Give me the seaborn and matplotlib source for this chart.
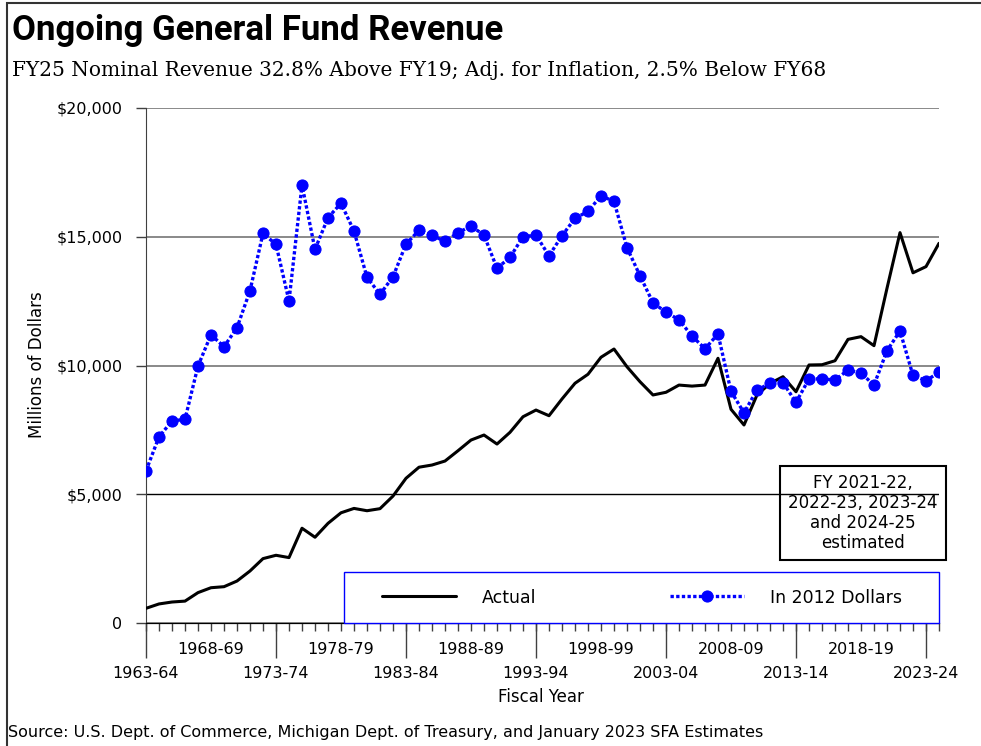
import pandas as pd
import numpy as np
import seaborn as sns
import matplotlib.pyplot as plt
from matplotlib.patches import Rectangle

# Data (millions of dollars), FY 1963-64 .. FY 2024-25
fiscal_years = [f"{y}-{str(y + 1)[-2:]}" for y in range(1963, 2025)]
actual = [570, 740, 815, 850, 1180, 1370, 1410, 1630, 2020, 2500,
          2630, 2540, 3680, 3330, 3870, 4280, 4450, 4360, 4440, 4930,
          5620, 6050, 6135, 6290, 6690, 7105, 7300, 6950, 7405, 8010,
          8270, 8050, 8700, 9310, 9660, 10320, 10640, 9950, 9370, 8855,
          8960, 9240, 9200, 9240, 10280, 8300, 7690, 8855, 9305, 9565,
          8980, 10020, 10030, 10185, 11015, 11120, 10770, 13000, 15160, 13600,
          13840, 14745]
real_2012 = [5910, 7230, 7845, 7910, 9980, 11195, 10730, 11465, 12905, 15130,
             14705, 12505, 17010, 14510, 15740, 16300, 15220, 13425, 12765, 13445,
             14715, 15250, 15055, 14820, 15155, 15415, 15065, 13775, 14200, 15000,
             15065, 14260, 15040, 15715, 15985, 16590, 16375, 14575, 13485, 12435,
             12070, 11775, 11145, 10650, 11225, 8995, 8165, 9050, 9305, 9335,
             8570, 9475, 9485, 9435, 9825, 9705, 9240, 10575, 11340, 9615,
             9410, 9735]
lower_labels = ["1963-64", "1973-74", "1983-84", "1993-94", "2003-04", "2013-14", "2023-24"]
upper_labels = ["1968-69", "1978-79", "1988-89", "1998-99", "2008-09", "2018-19"]

df = pd.DataFrame({"idx": np.arange(len(fiscal_years)), "year": fiscal_years,
                   "Actual": actual, "In 2012 Dollars": real_2012})

sns.set_style("white")
plt.rcParams['font.family'] = ['DejaVu Sans']
plt.rcParams.update({"text.color": "black", "axes.labelcolor": "black",
                     "xtick.color": "black", "ytick.color": "black"})

fig = plt.figure(figsize=(9.81, 7.46), dpi=100)
ax = fig.add_axes([146 / 981, 1 - 623 / 746, 793 / 981, 515 / 746])

sns.lineplot(data=df, x="idx", y="Actual", ax=ax, color="black", lw=2.2,
             label="Actual", zorder=3)
sns.lineplot(data=df, x="idx", y="In 2012 Dollars", ax=ax, color="#0000ff",
             lw=2.4, linestyle=(0, (1.0, 0.7)), marker="o", markersize=8,
             markeredgecolor="#0000ff", label="In 2012 Dollars", zorder=4)

ax.set_xlim(0, len(fiscal_years) - 1)
ax.set_ylim(0, 20000)
ax.set_xlabel("")
ax.set_ylabel("")

# y axis
ax.set_yticks([0, 5000, 10000, 15000, 20000],
              ["0", "$5,000", "$10,000", "$15,000", "$20,000"])
ax.tick_params(axis="y", left=True, length=7, width=1, pad=10, labelsize=11.5,
               color="#404040")
ax.yaxis.grid(True, color="#808080", lw=1.3)
for gl, v in zip(ax.get_ygridlines(), ax.get_yticks()):
    if v == 5000:
        gl.set_color("black")
        gl.set_linewidth(1)

# x axis: short ticks every year, staggered labels, long ticks every 10 years
ax.set_xticks(np.arange(5, len(fiscal_years), 10), upper_labels)
ax.set_xticks(np.arange(len(fiscal_years)), minor=True)
ax.tick_params(axis="x", which="both", bottom=True, length=6, width=1,
               color="#404040")
ax.tick_params(axis="x", which="major", pad=8, labelsize=11.5)
sec = ax.secondary_xaxis("bottom")
sec.set_xticks(np.arange(0, len(fiscal_years), 10), lower_labels)
sec.tick_params(axis="x", length=25, width=1, pad=6, labelsize=11.5, color="#404040")
sec.spines["bottom"].set_color("black")

for side in ["top", "right"]:
    ax.spines[side].set_visible(False)
ax.spines["left"].set_color("#404040")
ax.spines["bottom"].set_color("black")

# legend inside a blue box sitting on the x axis
ax.add_patch(Rectangle((0.25, 0), 0.75, 0.099, transform=ax.transAxes,
                       fill=True, fc="white", ec="#0000ff", lw=1, zorder=5,
                       clip_on=False))
leg = ax.legend(loc="center", bbox_to_anchor=(0.25, 0, 0.75, 0.099),
                ncol=2, borderaxespad=0, fontsize=12.5, handlelength=4.3,
                handletextpad=1.45, columnspacing=7.7, frameon=False)
leg.set_zorder(6)

ax.text(0.904, 0.2136, "FY 2021-22,\n2022-23, 2023-24\nand 2024-25\nestimated",
        transform=ax.transAxes, ha="center", va="center", fontsize=12,
        linespacing=1.15,
        bbox=dict(boxstyle="square,pad=0.5", fc="none", ec="black", lw=1.5))

fig.text(12 / 981, 1 - 40 / 746, "Ongoing General Fund Revenue", fontsize=25,
         fontweight="bold", family=["Roboto", "DejaVu Sans"], va="baseline")
fig.text(12 / 981, 1 - 76 / 746,
         "FY25 Nominal Revenue 32.8% Above FY19; Adj. for Inflation, 2.5% Below FY68",
         fontsize=14.5, family=["DejaVu Serif"], va="baseline")
fig.text(37 / 981, 1 - 365 / 746, "Millions of Dollars", rotation=90,
         ha="center", va="center", fontsize=12)
fig.text(541 / 981, 1 - 697 / 746, "Fiscal Year", ha="center", va="center",
         fontsize=12)
fig.text(8 / 981, 1 - 737 / 746,
         "Source: U.S. Dept. of Commerce, Michigan Dept. of Treasury, and January 2023 SFA Estimates",
         fontsize=11.5, va="baseline")

# outer frame (left and top edges visible)
fig.patches.append(Rectangle((7 / 981, -0.1), 1.2, 1.1 - 3 / 746,
                             transform=fig.transFigure, fill=False,
                             ec="#333333", lw=1.5))

fig.savefig("out.png", dpi=100)
